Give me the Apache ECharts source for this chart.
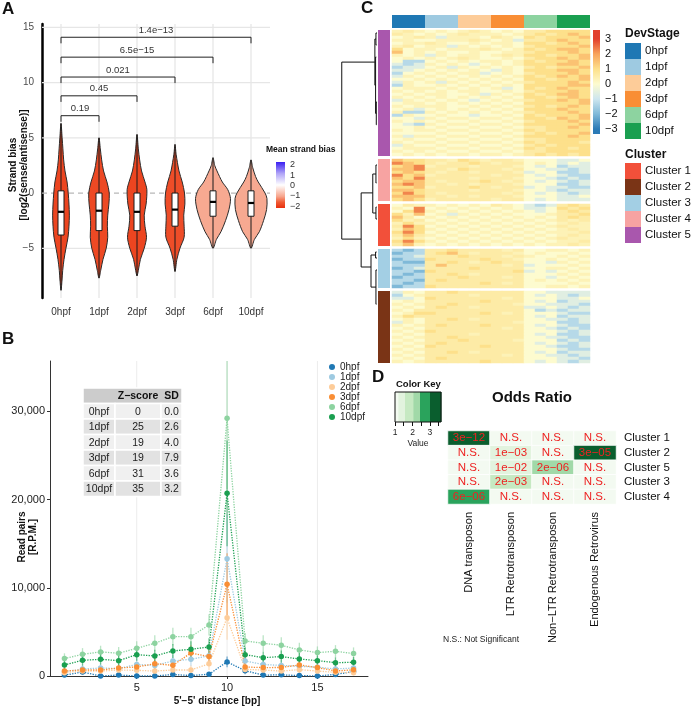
<!DOCTYPE html>
<html>
<head>
<meta charset="utf-8">
<script src="https://cdn.jsdelivr.net/npm/echarts@6/dist/echarts.min.js"></script>
<style>
html, body { margin: 0; padding: 0; background: #fff; }
#chart { width: 691px; height: 709px; }
</style>
</head>
<body>
<div id="chart"></div>
<script>
const FONT = '"Liberation Sans", Arial, Helvetica, sans-serif';

// ---------- shared ----------
const stages = ['0hpf', '1dpf', '2dpf', '3dpf', '6dpf', '10dpf'];
const stageColors = ['#1f78b4', '#9ecae1', '#fdcc99', '#f98e35', '#8dd3a0', '#1a9f50'];

// ---------- panel A: strand bias violins ----------
const meanBias = [-1.75, -1.7, -1.75, -1.65, -0.95, -0.95];
// [strand bias, half width as share of the category band]
const violin0hpf = [[6.3, 0], [5, 0.03], [4, 0.05], [3, 0.07], [2, 0.105], [1, 0.16], [0, 0.19], [-1, 0.21], [-2, 0.22], [-3, 0.21], [-4, 0.185], [-5, 0.13], [-6, 0.08], [-7, 0.045], [-8, 0.025], [-8.8, 0]];
const violin1dpf = [[5.0, 0], [4, 0.035], [3, 0.07], [2, 0.12], [1, 0.21], [0, 0.27], [-1, 0.26], [-2, 0.23], [-3, 0.22], [-4, 0.23], [-5, 0.19], [-6, 0.105], [-7, 0.045], [-7.7, 0]];
const violin2dpf = [[5.3, 0], [4, 0.035], [3, 0.07], [2, 0.12], [1, 0.21], [0.3, 0.26], [-1, 0.24], [-2, 0.19], [-3, 0.21], [-4, 0.25], [-5, 0.19], [-6, 0.09], [-7, 0.035], [-7.5, 0]];
const violin3dpf = [[4.4, 0], [3.5, 0.03], [2, 0.105], [1, 0.19], [0, 0.25], [-1, 0.26], [-2, 0.23], [-3, 0.24], [-4, 0.24], [-5, 0.13], [-6, 0.05], [-7.1, 0]];
const violin6dpf = [[3.2, 0], [2.5, 0.045], [2, 0.105], [1, 0.245], [0.3, 0.39], [-0.5, 0.46], [-1.5, 0.42], [-2.5, 0.33], [-3.5, 0.21], [-4.2, 0.09], [-5, 0]];
const violin10dpf = [[3.0, 0], [2.3, 0.045], [1.5, 0.12], [1, 0.19], [0, 0.37], [-0.5, 0.42], [-1.5, 0.41], [-2.5, 0.33], [-3.5, 0.22], [-4.2, 0.09], [-5, 0]];
const violinProfiles = [violin0hpf, violin1dpf, violin2dpf, violin3dpf, violin6dpf, violin10dpf];
const boxQ1 = [-3.8, -3.4, -3.4, -3.0, -2.1, -2.1];
const boxMedian = [-1.7, -1.6, -1.7, -1.5, -0.8, -0.9];
const boxQ3 = [0.2, 0, 0, 0, 0.2, 0.2];
const compareWith = [1, 2, 3, 4, 5];
const compareY = [7.0, 8.8, 10.5, 12.3, 14.1];
const compareP = ['0.19', '0.45', '0.021', '6.5e−15', '1.4e−13'];
const aGridY = [-5, 5, 10, 15];
const biasTicks = [2, 1, 0, -1, -2];

// ---------- panel B: 5'-5' distance ----------
const distance = [1, 2, 3, 4, 5, 6, 7, 8, 9, 10, 11, 12, 13, 14, 15, 16, 17];
const rpm0hpf = [100, 450, 0, 110, 0, 0, 170, 50, 200, 1600, 600, 100, 130, 50, 0, 180, 500];
const rpm1dpf = [450, 800, 900, 850, 1300, 1200, 1700, 1900, 2300, 13300, 1700, 1300, 1200, 1100, 1000, 800, 900];
const rpm2dpf = [380, 560, 560, 680, 640, 560, 680, 680, 1380, 6600, 750, 680, 560, 720, 560, 420, 380];
const rpm3dpf = [570, 680, 680, 910, 1020, 1400, 1210, 2610, 2200, 10400, 1020, 950, 970, 1250, 950, 570, 700];
const rpm6dpf = [1970, 2460, 2730, 2580, 3140, 3710, 4460, 4460, 5790, 29200, 3970, 3710, 3480, 2960, 2650, 2800, 2540];
const rpm10dpf = [1250, 1780, 1890, 1740, 2420, 2270, 2840, 3030, 3290, 20700, 2420, 2080, 2200, 1930, 1740, 1510, 1550];
const err0hpf = [150, 250, 80, 150, 80, 80, 200, 120, 200, 600, 400, 120, 150, 100, 80, 150, 300];
const err1dpf = [400, 500, 500, 500, 600, 600, 700, 800, 900, 5000, 700, 600, 600, 500, 500, 500, 500];
const err2dpf = [300, 400, 400, 400, 400, 400, 500, 500, 700, 2500, 500, 400, 400, 400, 400, 300, 300];
const err3dpf = [300, 400, 400, 400, 500, 600, 600, 900, 900, 3500, 500, 500, 500, 500, 500, 400, 400];
const err6dpf = [600, 700, 700, 700, 800, 900, 1000, 1000, 1200, 8000, 900, 900, 900, 800, 700, 700, 700];
const err10dpf = [500, 600, 600, 600, 700, 700, 800, 900, 1000, 6000, 800, 700, 700, 700, 600, 600, 600];
const rpmSeries = [rpm0hpf, rpm1dpf, rpm2dpf, rpm3dpf, rpm6dpf, rpm10dpf];
const errSeries = [err0hpf, err1dpf, err2dpf, err3dpf, err6dpf, err10dpf];
const bGridX = [5, 10, 15];
const zScores = [0, 25, 19, 19, 31, 35];
const sdScores = [0.0, 2.6, 4.0, 7.9, 3.6, 3.2];

// ---------- panel C: expression heatmap ----------
// one letter per cell, 3 replicates x 6 stages; letter -> z-score below
const levelCodes = 'abcdefghijk';
const levelValues = [-3, -2, -1.3, -0.6, 0, 0.35, 0.6, 1.0, 1.5, 2.3, 3];
const rowsC5 = [
  'fgf efe fgf efe ggh hhh', 'gfe fef gff fef ghg hih', 'efg fdf ffe gfe hgh hhi', 'ffe eff fgf efd ggh ihh',
  'eff gfe efe ffe hhg hih', 'fge ffd fef efe ghh hhi', 'hef fef ffg fef hgh iih', 'ief efe efe eff ghh hih',
  'fef dfe ffe fgf hhg hhi', 'efe fef gfe efe ghh ihi', 'ecc efe fef fef hgh hih', 'dcd fef ede fef hhh iih',
  'cdd efd fef efe ghg hhi', 'dde fef efe dfe hhh iih', 'cef efe ffd efe ghh hih', 'dfe fef efe fef hgh ihi',
  'eef efe fef efe hhg hhi', 'dfe fdf efe fef ghh hih', 'cfe efe fef efe hhh hii', 'eff fef efe fde hgh ihh',
  'fef efe ffe efe ghh hih', 'efe ffe efd fef hgh iih', 'fef efe fef efe hhg hih', 'dfe fef ede fef ghh ihi',
  'eff efe fef efe hhh hhi', 'fef ffe efe fef ghg hih', 'efd efe fef efe hhh ihh', 'fcc fef efe fef ghh hih',
  'cfe efe ede efe hgh hhi', 'eed fef fef fef hhg ihi', 'fef efe efe efe ghh hih', 'edc fef fef fef hhh hhi',
  'eef efe efe efe ggh hih', 'fef fef fef fef hgh hhh', 'eee efe efe efe ghg hhi', 'fdf fef fef fef hhh hih',
  'efe efe efe efe ggh hhh', 'fef fef fef fef hgh hhg', 'dfe efe efe efe ghg hhh', 'eff fef fef fef hgh hgh',
  'fef efe efe efe ggh hhh', 'efe fef fef fef ghg hgh'
];
const rowsC4 = [
  'ihh ggf hgf ggf eee dde', 'jih gfg ghg fgg efe ded', 'hij fgg gfg ggf ede cdd', 'iij ggf hgg gfg eed dcd',
  'hih gfg gfg ggf dee ccd', 'jhi fgg ggg fgg ede dcc', 'ihj ggg gfg ggf eed cdc', 'hii gfg ggh gfg ede dcd',
  'iji ggf gfg ggf eee ccd', 'hhi fgg ghg fgg ded dcc', 'iih ggg gfg ggf eed cdd', 'hjh gfg ggg gfg ede dcd',
  'iii ggf gfg ggf eee dde', 'hih fgg ggg fgg ede ddd'
];
const rowsC1 = [
  'egf fef efe gfe dcd ghg', 'fej efe fef efe dde hgh', 'ehj fef efe fef ede ghg', 'hfi efd fef efe eef ggh',
  'ige fef efe fef efe ghg', 'hfg efe fef efe fef gfg', 'fhf fef efe fef efe fgf', 'gjh efe fef efe fef gff',
  'fih fef efe fef efe fgf', 'hjh efe fef efe fef ffg', 'gig fef efe fef efe fgf', 'fhf efe fef efe fef gff',
  'hjh fef efe fef efe ffg', 'gif efe fef efe fef fgf'
];
const rowsC3 = [
  'cbc ggh ggg gfg eef fef', 'bcc ghi gfg ggf efe efe', 'ccd ggg hgg gfg fee fef', 'bcc hgg ggh ggf eef efe',
  'cbb ggh gfg hgg eed fef', 'ccc gig ggg gfg dee efe', 'bcd ggg ghg ggg eef fef', 'ccb hgg ggg ggh ded efe',
  'cbc ggh gfg ggg eee fef', 'bcc ggg hgg gfg eed efe', 'ccb ghg ggg ggg efe fef', 'cbc ggg ggh gfg eee efe',
  'bcc hgg ggg ggg eef fef'
];
const rowsC2 = [
  'dfe ggh ggg ggg eed ddd', 'cef ggg gfg ggg ede dcd', 'dde hgg ggg gfg eee dde', 'efe ggg ggh ggg ede cdd',
  'fef ggh ggg ggf eed ddc', 'efe ghg gfg ggg dde dcd', 'feg ggg ggg ggg ecd cdd', 'efh hgg ggh gfg eee dcc',
  'fhg ggg ggg ggg ede cdd', 'efe ggh gfg ggg eed dcd', 'dfe ggg ggg ggf eee ccd', 'fef ghg ggh ggg ede dcc',
  'efe ggg ggg gfg eed cdc', 'fef hgg ggg ggg eee dcd', 'efe ggg gfg ggg ede ccd', 'fef ggh ggg ggg eed dcc',
  'efe ggg hgg ggf eee cdc', 'fef ghg ggg ggg ede dcd', 'efe hgg ggh ggg eed ccd', 'fef ggg ggg ggg eee dcc',
  'efe ggh gfg ggg ede cdd', 'fef ggg ggg gfg eed dcd', 'efe ghg ggg ggg eee ddc', 'fef ggg ggh ggg ede dcd'
];
const clusterOrder = ['Cluster 5', 'Cluster 4', 'Cluster 1', 'Cluster 3', 'Cluster 2'];
const clusterRows = [rowsC5, rowsC4, rowsC1, rowsC3, rowsC2];
const clusterNames = ['Cluster 1', 'Cluster 2', 'Cluster 3', 'Cluster 4', 'Cluster 5'];
const clusterColors = ['#f2503a', '#7a3416', '#a3cfe4', '#f7a3a2', '#a957ad'];
const replicates = 3;
const heatTicks = [3, 2, 1, 0, -1, -2, -3];
const heatStops = [-3, -2, -1, 0, 1, 2, 3];
const heatColors = ['#2c7bb6', '#80b9d8', '#cde6ef', '#fdfbcf', '#fde08b', '#f8a35b', '#e2402b'];
// [height, row of upper child, its height, row of lower child, its height]
const dendroMerges = [
  [1.0, 10.7, 0.06, 69.7, 0.45],
  [0.45, 54.3, 0.12, 79, 0.17],
  [0.12, 48, 0.03, 61, 0.03],
  [0.17, 75, 0.04, 85.7, 0.03],
  [0.06, 3, 0.03, 18.4, 0.04],
  [0.03, 1, 0, 5, 0.01],
  [0.04, 9, 0.02, 27.8, 0.02],
  [0.02, 24, 0, 31.6, 0.01],
  [0.03, 45, 0, 51, 0.015],
  [0.03, 59, 0.01, 63, 0],
  [0.04, 74, 0.01, 76, 0],
  [0.03, 80, 0, 91.4, 0.015]
];

// ---------- panel D: odds ratio ----------
const teClasses = ['DNA transposon', 'LTR Retrotransposon', 'Non−LTR Retrotransposon', 'Endogenous Retrovirus'];
const orClusters = ['Cluster 1', 'Cluster 2', 'Cluster 5', 'Cluster 3', 'Cluster 4'];
const oddsRatio = [
  [3.5, 1.1, 1.1, 1.05],
  [1.05, 1.35, 1.1, 3.5],
  [1.1, 1.4, 2.2, 1.05],
  [1.05, 1.8, 1.1, 1.05],
  [2.8, 1.1, 1.05, 1.05]
];
const orPLabels = [
  ['3e−12', 'N.S.', 'N.S.', 'N.S.'],
  ['N.S.', '1e−03', 'N.S.', '3e−05'],
  ['N.S.', '1e−02', '2e−06', 'N.S.'],
  ['N.S.', '2e−03', 'N.S.', 'N.S.'],
  ['6e−06', 'N.S.', 'N.S.', 'N.S.']
];
const oddsBreaks = [1, 1.19, 1.57, 2.05, 2.43, 3.0, 3.63];
const oddsColors = ['#f3faf1', '#e2f3de', '#c6e9c2', '#a1d9a8', '#2aa35c', '#0a5e2e'];

// ---------- helpers ----------
function hexToRgb(h) { return [1, 3, 5].map(k => parseInt(h.substr(k, 2), 16)); }
const biasStops = [[-2, '#e8300d'], [-1.5, '#f05a33'], [-1, '#f7a48b'], [0, '#ffffff'], [1, '#b0a4f7'], [2, '#3a1ff2']];
function biasColor(v) {
  for (let k = 0; k < biasStops.length - 1; k++) {
    const [a, ca] = biasStops[k], [b, cb] = biasStops[k + 1];
    if (v <= b || k === biasStops.length - 2) {
      const t = Math.max(0, Math.min(1, (v - a) / (b - a)));
      const A = hexToRgb(ca), B = hexToRgb(cb);
      return 'rgb(' + A.map((x, j) => Math.round(x + (B[j] - x) * t)).join(',') + ')';
    }
  }
}
const minus = v => String(v).replace('-', '−');

// heatmap C cells
const heatData = [];
const clusterSpans = [];
let rowCursor = 0;
clusterRows.forEach((rows, ci) => {
  const start = rowCursor;
  rows.forEach(r => {
    const cells = r.replace(/ /g, '');
    for (let c = 0; c < cells.length; c++) {
      heatData.push([c, rowCursor, levelValues[levelCodes.indexOf(cells[c])]]);
    }
    rowCursor++;
  });
  clusterSpans.push([clusterNames.indexOf(clusterOrder[ci]), start, rowCursor]);
  if (ci < clusterRows.length - 1) rowCursor++; // white gap between clusters
});
const totalRows = rowCursor;
const nCols = stages.length * replicates;

// heatmap D cells
const orData = [];
oddsRatio.forEach((row, r) => row.forEach((v, c) => orData.push([c, r, v])));

// ---------- render functions ----------
function renderViolin(params, api) {
  const i = api.value(0);
  const prof = violinProfiles[i];
  const cx = api.coord([i, 0])[0];
  const band = api.size([1, 0])[0];
  const pts = prof.map(p => [cx + p[1] * band, api.coord([i, p[0]])[1]]);
  prof.slice(1, -1).reverse().forEach(p => pts.push([cx - p[1] * band, api.coord([i, p[0]])[1]]));
  const top = api.coord([i, prof[0][0]])[1];
  const bot = api.coord([i, prof[prof.length - 1][0]])[1];
  const q1 = api.coord([i, boxQ1[i]])[1], q3 = api.coord([i, boxQ3[i]])[1], med = api.coord([i, boxMedian[i]])[1];
  const bw = 6;
  return { type: 'group', children: [
    { type: 'polygon', shape: { points: pts, smooth: 0.3 }, style: { fill: biasColor(meanBias[i]), stroke: '#2b2b2b', lineWidth: 1 } },
    { type: 'line', shape: { x1: cx, y1: top, x2: cx, y2: bot }, style: { stroke: '#1a1a1a', lineWidth: 1 } },
    { type: 'rect', shape: { x: cx - bw / 2, y: q3, width: bw, height: q1 - q3 }, style: { fill: '#fff', stroke: '#1a1a1a', lineWidth: 1 } },
    { type: 'line', shape: { x1: cx - bw / 2, y1: med, x2: cx + bw / 2, y2: med }, style: { stroke: '#000', lineWidth: 2.2 } }
  ] };
}

function renderBracket(params, api) {
  const y = api.value(2);
  const p0 = api.coord([api.value(0), y]);
  const p1 = api.coord([api.value(1), y]);
  const drop = api.coord([0, y - 0.55])[1];
  return { type: 'group', children: [
    { type: 'polyline', shape: { points: [[p0[0], drop], p0, p1, [p1[0], drop]] }, style: { stroke: '#222', lineWidth: 1, fill: null } },
    { type: 'text', x: (p0[0] + p1[0]) / 2, y: p0[1] - 2, style: { text: compareP[api.value(3)], fontSize: 9.5, fontFamily: FONT, fill: '#333', align: 'center', verticalAlign: 'bottom' } }
  ] };
}

function hLine(stroke, width, dash) {
  return function (params, api) {
    const cs = params.coordSys;
    const y = api.coord([0, api.value(1)])[1];
    return { type: 'line', shape: { x1: cs.x, y1: y, x2: cs.x + cs.width, y2: y }, style: { stroke: stroke, lineWidth: width, lineDash: dash } };
  };
}
function vLine(stroke, width) {
  return function (params, api) {
    const cs = params.coordSys;
    const x = api.coord([api.value(0), 0])[0];
    return { type: 'line', shape: { x1: x, y1: cs.y, x2: x, y2: cs.y + cs.height }, style: { stroke: stroke, lineWidth: width } };
  };
}

function renderErr(color) {
  return function (params, api) {
    const x = api.value(0), y = api.value(1), e = api.value(2);
    const a = api.coord([x, y - e]), b = api.coord([x, y + e]);
    return { type: 'line', shape: { x1: a[0], y1: a[1], x2: b[0], y2: b[1] }, style: { stroke: color, lineWidth: 1.3, opacity: 0.6 } };
  };
}

function renderDendro(params, api) {
  const h = api.value(0), ra = api.value(1), ha = api.value(2), rb = api.value(3), hb = api.value(4);
  return { type: 'polyline', shape: { points: [api.coord([ha, ra]), api.coord([h, ra]), api.coord([h, rb]), api.coord([hb, rb])] },
    style: { stroke: '#111', lineWidth: 1, fill: null } };
}

function renderSpan(params, api) {
  const cs = params.coordSys;
  const y0 = api.coord([0, api.value(1)])[1], y1 = api.coord([0, api.value(2)])[1];
  return { type: 'rect', shape: { x: cs.x, y: y0, width: cs.width, height: y1 - y0 }, style: { fill: clusterColors[api.value(0)] } };
}

function renderStageBar(params, api) {
  const cs = params.coordSys;
  const x0 = api.coord([api.value(1), 0])[0], x1 = api.coord([api.value(2), 0])[0];
  return { type: 'rect', shape: { x: x0, y: cs.y, width: x1 - x0, height: cs.height }, style: { fill: stageColors[api.value(0)] } };
}

function renderColorbar(params, api) {
  const cs = params.coordSys;
  const stops = [{ offset: 0, color: heatColors[heatColors.length - 1] }];
  heatStops.slice().reverse().forEach((v, k) => {
    stops.push({ offset: (api.coord([0, v])[1] - cs.y) / cs.height, color: heatColors[heatColors.length - 1 - k] });
  });
  stops.push({ offset: 1, color: heatColors[0] });
  return { type: 'rect', shape: { x: cs.x, y: cs.y, width: cs.width, height: cs.height },
    style: { fill: new echarts.graphic.LinearGradient(0, 0, 0, 1, stops) } };
}

function renderKey(params, api) {
  const cs = params.coordSys;
  const x0 = api.coord([api.value(0), 0])[0], x1 = api.coord([api.value(1), 0])[0];
  return { type: 'rect', shape: { x: x0, y: cs.y, width: x1 - x0 + 0.5, height: cs.height }, style: { fill: api.visual('color') } };
}

// ---------- graphic texts ----------
const graphics = [];
function txt(x, y, text, o) {
  o = o || {};
  graphics.push({ type: 'text', x: x, y: y, rotation: o.rot || 0, z: 10, silent: true,
    style: { text: text, fontSize: o.size || 11, fontWeight: o.bold ? 'bold' : 'normal', fontFamily: FONT,
      fill: o.color || '#111', align: o.align || 'left', verticalAlign: 'middle' } });
}
function box(x, y, w, h, fill, stroke) {
  graphics.push({ type: 'rect', z: 9, silent: true, shape: { x: x, y: y, width: w, height: h },
    style: { fill: fill, stroke: stroke || null, lineWidth: stroke ? 1.5 : 0 } });
}

// panel letters
txt(2, 9, 'A', { size: 17, bold: true });
txt(2, 339, 'B', { size: 17, bold: true });
txt(361, 8, 'C', { size: 17, bold: true });
txt(372, 377, 'D', { size: 17, bold: true });

// A axis title + mean bias legend
txt(13, 165, 'Strand bias', { size: 10, bold: true, rot: Math.PI / 2, align: 'center' });
txt(24, 165, '[log2(sense/antisense)]', { size: 10, bold: true, rot: Math.PI / 2, align: 'center' });
txt(266, 150, 'Mean strand bias', { size: 8.5, bold: true });
graphics.push({ type: 'rect', z: 9, silent: true, shape: { x: 276, y: 162, width: 9, height: 46 },
  style: { fill: new echarts.graphic.LinearGradient(0, 0, 0, 1, biasStops.slice().reverse().map(s => ({ offset: (2 - s[0]) / 4, color: s[1] }))) } });
biasTicks.forEach((v, k) => txt(290, 165 + k * 10.3, minus(v), { size: 9, color: '#333' }));

// B axis titles
txt(22, 537, 'Read pairs', { size: 10, bold: true, rot: Math.PI / 2, align: 'center' });
txt(33, 537, '[R.P.M.]', { size: 10, bold: true, rot: Math.PI / 2, align: 'center' });
txt(217, 701, "5'−5' distance [bp]", { size: 10, bold: true, align: 'center' });

// B summary table
const tX = [83, 115, 161, 182], tTop = 388, tHead = 15.5, tRow = 15.5;
box(tX[0], tTop, tX[3] - tX[0], tHead, '#cccccc', '#fff');
txt((tX[1] + tX[2]) / 2, tTop + tHead / 2 + 0.5, 'Z−score', { size: 10.5, bold: true, align: 'center' });
txt((tX[2] + tX[3]) / 2, tTop + tHead / 2 + 0.5, 'SD', { size: 10.5, bold: true, align: 'center' });
stages.forEach((s, k) => {
  const y = tTop + tHead + k * tRow;
  const fill = k % 2 === 0 ? '#f0f0f0' : '#e2e2e2';
  for (let c = 0; c < 3; c++) box(tX[c], y, tX[c + 1] - tX[c], tRow, fill, '#fff');
  txt((tX[0] + tX[1]) / 2, y + tRow / 2 + 0.5, s, { size: 10.5, align: 'center', color: '#222' });
  txt((tX[1] + tX[2]) / 2, y + tRow / 2 + 0.5, String(zScores[k]), { size: 10.5, align: 'center', color: '#222' });
  txt((tX[2] + tX[3]) / 2, y + tRow / 2 + 0.5, sdScores[k].toFixed(1), { size: 10.5, align: 'center', color: '#222' });
});

// C legends
txt(625, 34, 'DevStage', { size: 12, bold: true });
stages.forEach((s, k) => {
  box(625, 43 + k * 16, 16, 16, stageColors[k]);
  txt(645, 51 + k * 16, s, { size: 11.5 });
});
txt(625, 155, 'Cluster', { size: 12, bold: true });
clusterNames.forEach((s, k) => {
  box(625, 163 + k * 16, 16, 16, clusterColors[k]);
  txt(645, 171 + k * 16, s, { size: 11.5 });
});

// D titles
txt(396, 384, 'Color Key', { size: 9.5, bold: true });
txt(418, 444, 'Value', { size: 8.5, align: 'center', color: '#222' });
txt(532, 398, 'Odds Ratio', { size: 15, bold: true, align: 'center' });
txt(443, 640, 'N.S.: Not Significant', { size: 8.5, color: '#222' });

// ---------- option ----------
const hidden = (extra) => Object.assign({ type: 'value', show: false, min: 0, max: 1 }, extra || {});
const labelStyle = { fontFamily: FONT };

const series = [];
// A background grid
series.push({ type: 'custom', xAxisIndex: 0, yAxisIndex: 0, z: 1, silent: true, renderItem: hLine('#e6e6e6', 1.3), data: aGridY.map(v => [0, v]) });
series.push({ type: 'custom', xAxisIndex: 0, yAxisIndex: 0, z: 1, silent: true, renderItem: vLine('#e6e6e6', 1.3), data: stages.map((s, i) => [i, 0]) });
series.push({ type: 'custom', xAxisIndex: 0, yAxisIndex: 0, z: 1, silent: true, renderItem: hLine('#b8b8b8', 1.3, [5, 4]), data: [[0, 0]] });
series.push({ type: 'custom', xAxisIndex: 0, yAxisIndex: 0, z: 3, silent: true, renderItem: renderViolin, data: stages.map((s, i) => [i, meanBias[i]]) });
series.push({ type: 'custom', xAxisIndex: 0, yAxisIndex: 0, z: 4, silent: true, renderItem: renderBracket, data: compareWith.map((t, k) => [0, t, compareY[k], k]) });

// B
series.push({ type: 'custom', xAxisIndex: 1, yAxisIndex: 1, z: 1, silent: true, renderItem: vLine('#ececec', 1), data: bGridX.map(v => [v, 0]) });
stages.forEach((s, k) => {
  series.push({ name: s, type: 'custom', xAxisIndex: 1, yAxisIndex: 1, z: 2, clip: true, silent: true,
    itemStyle: { color: stageColors[k] }, renderItem: renderErr(stageColors[k]),
    data: distance.map((d, j) => [d, rpmSeries[k][j], errSeries[k][j]]) });
});
stages.forEach((s, k) => {
  series.push({ name: s, type: 'line', xAxisIndex: 1, yAxisIndex: 1, z: 3, silent: true,
    symbol: 'circle', symbolSize: 5.5, showSymbol: true,
    itemStyle: { color: stageColors[k] }, lineStyle: { color: stageColors[k], width: 1.3, type: 'dotted' },
    data: distance.map((d, j) => [d, rpmSeries[k][j]]) });
});

// C
series.push({ type: 'custom', xAxisIndex: 2, yAxisIndex: 2, silent: true, renderItem: renderDendro, data: dendroMerges });
series.push({ type: 'custom', xAxisIndex: 3, yAxisIndex: 3, silent: true, renderItem: renderSpan, data: clusterSpans });
const heatCIndex = series.length;
series.push({ type: 'heatmap', xAxisIndex: 4, yAxisIndex: 4, silent: true, emphasis: { disabled: true }, progressive: 0,
  itemStyle: { borderWidth: 0 }, data: heatData });
series.push({ type: 'custom', xAxisIndex: 5, yAxisIndex: 5, silent: true, renderItem: renderStageBar,
  data: stages.map((s, i) => [i, i * replicates, (i + 1) * replicates]) });
series.push({ type: 'custom', xAxisIndex: 6, yAxisIndex: 6, silent: true, renderItem: renderColorbar, data: [[0, 0]] });

// D
const keyIndex = series.length;
series.push({ type: 'custom', xAxisIndex: 7, yAxisIndex: 7, silent: true, renderItem: renderKey,
  data: oddsBreaks.slice(0, -1).map((b, k) => [b, oddsBreaks[k + 1], (b + oddsBreaks[k + 1]) / 2]) });
const heatDIndex = series.length;
series.push({ type: 'heatmap', xAxisIndex: 8, yAxisIndex: 8, silent: true, emphasis: { disabled: true },
  itemStyle: { borderColor: '#fff', borderWidth: 0.8 },
  label: { show: true, color: '#ee2222', fontSize: 11.5, fontFamily: FONT, formatter: p => orPLabels[p.value[1]][p.value[0]] },
  data: orData });

const option = {
  animation: false,
  textStyle: { fontFamily: FONT },
  grid: [
    { left: 42, top: 24, width: 228, height: 274 },
    { left: 50, top: 361, width: 318, height: 315 },
    { left: 340, top: 30, width: 37, height: 333 },
    { left: 378, top: 30, width: 12, height: 333 },
    { left: 392, top: 30, width: 198, height: 333 },
    { left: 392, top: 15, width: 198, height: 13 },
    { left: 593, top: 30, width: 7, height: 104 },
    { left: 395, top: 392, width: 46, height: 30, show: true, borderColor: '#111', borderWidth: 1, backgroundColor: 'transparent', z: 3 },
    { left: 448, top: 431, width: 168, height: 73 }
  ].map(g => Object.assign({ outerBoundsMode: 'none', containLabel: false }, g)),
  xAxis: [
    { gridIndex: 0, type: 'category', data: stages, boundaryGap: true, axisLine: { show: false }, axisTick: { show: false }, splitLine: { show: false },
      axisLabel: Object.assign({ fontSize: 10, color: '#333', margin: 9, interval: 0 }, labelStyle) },
    { gridIndex: 1, type: 'value', min: 0.2, max: 17.8, splitNumber: 3, splitLine: { show: false },
      axisLine: { show: true, lineStyle: { color: '#333', width: 1 } }, axisTick: { show: true, length: 3, lineStyle: { color: '#333' } },
      axisLabel: Object.assign({ fontSize: 11, color: '#222', margin: 6, showMinLabel: false, showMaxLabel: false }, labelStyle) },
    hidden({ gridIndex: 2, max: 1.05, inverse: true }),
    hidden({ gridIndex: 3 }),
    { gridIndex: 4, type: 'category', show: false, data: Array.from({ length: nCols }, (v, i) => i) },
    hidden({ gridIndex: 5, max: nCols }),
    hidden({ gridIndex: 6 }),
    { gridIndex: 7, type: 'value', min: 1, max: 3.63, splitLine: { show: false }, axisLine: { show: false },
      axisTick: { show: true, length: 4, lineStyle: { color: '#111' }, customValues: [1, 1.5, 2, 2.5, 3, 3.5] },
      axisLabel: Object.assign({ fontSize: 8.5, color: '#222', margin: 6, customValues: [1, 2, 3] }, labelStyle) },
    { gridIndex: 8, type: 'category', data: teClasses, axisLine: { show: false }, axisTick: { show: false }, splitLine: { show: false },
      axisLabel: Object.assign({ rotate: 90, fontSize: 11, color: '#111', margin: 8, interval: 0 }, labelStyle) }
  ],
  yAxis: [
    { gridIndex: 0, type: 'value', min: -9.5, max: 15.3, splitNumber: 5, splitLine: { show: false },
      axisLine: { show: true, lineStyle: { color: '#000', width: 2.5 } }, axisTick: { show: false },
      axisLabel: Object.assign({ fontSize: 10, color: '#4d4d4d', margin: 8, showMinLabel: false, showMaxLabel: false, formatter: minus }, labelStyle) },
    { gridIndex: 1, type: 'value', min: 0, max: 35700, interval: 10000, splitLine: { show: false },
      axisLine: { show: true, lineStyle: { color: '#333', width: 1 } }, axisTick: { show: true, length: 3, lineStyle: { color: '#333' } },
      axisLabel: Object.assign({ fontSize: 11, color: '#222', margin: 5, showMaxLabel: false, formatter: v => v.toLocaleString('en-US') }, labelStyle) },
    hidden({ gridIndex: 2, max: totalRows, inverse: true }),
    hidden({ gridIndex: 3, max: totalRows, inverse: true }),
    { gridIndex: 4, type: 'category', show: false, inverse: true, data: Array.from({ length: totalRows }, (v, i) => i) },
    hidden({ gridIndex: 5 }),
    { gridIndex: 6, type: 'value', min: -3.33, max: 3.6, position: 'right', splitLine: { show: false }, axisLine: { show: false }, axisTick: { show: false },
      axisLabel: Object.assign({ fontSize: 11, color: '#111', margin: 5, customValues: heatTicks, formatter: minus }, labelStyle) },
    hidden({ gridIndex: 7 }),
    { gridIndex: 8, type: 'category', data: orClusters, inverse: true, position: 'right', axisLine: { show: false }, axisTick: { show: false }, splitLine: { show: false },
      axisLabel: Object.assign({ fontSize: 11.5, color: '#111', margin: 8, interval: 0 }, labelStyle) }
  ],
  visualMap: [
    { type: 'continuous', show: false, seriesIndex: heatCIndex, dimension: 2, min: -3, max: 3, inRange: { color: heatColors } },
    { type: 'piecewise', show: false, seriesIndex: [keyIndex, heatDIndex], dimension: 2,
      pieces: oddsColors.map((c, k) => k === oddsColors.length - 1 ? { gte: oddsBreaks[k], color: c } : { gte: oddsBreaks[k], lt: oddsBreaks[k + 1], color: c }) }
  ],
  legend: {
    data: stages.map(s => ({ name: s, icon: 'circle' })),
    orient: 'vertical', left: 324, top: 357, itemWidth: 6, itemHeight: 6, itemGap: 0, selectedMode: false,
    textStyle: { fontSize: 10, lineHeight: 8, color: '#222', fontFamily: FONT }
  },
  graphic: graphics,
  series: series
};

const chart = echarts.init(document.getElementById('chart'));
chart.setOption(option);
</script>
</body>
</html>
